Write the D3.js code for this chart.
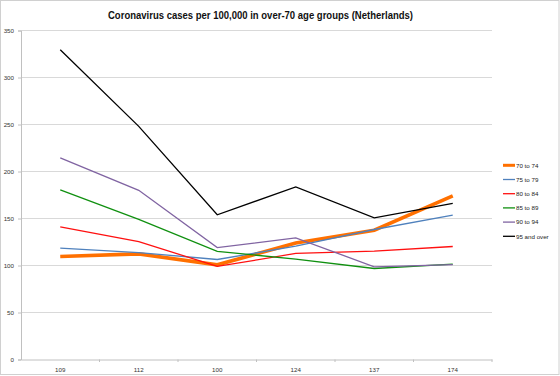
<!DOCTYPE html>
<html><head><meta charset="utf-8">
<script src="https://cdn.jsdelivr.net/npm/d3@7"></script>
<style>body{margin:0;background:#fff}svg{display:block}</style>
</head><body>
<script>
const categories = ["109","112","100","124","137","174"];
const seriesNames = ["70 to 74","75 to 79","80 to 84","85 to 89","90 to 94","95 and over"];
const s70 = [109.6,112.4,100.7,124,137.5,174];
const s75 = [118.4,113.8,106.4,120.5,138.3,153.5];
const s80 = [141,125.5,99,112.8,115.2,120.2];
const s85 = [180.4,149,115,106.8,96.8,101.4];
const s90 = [214.4,180,119,129.4,98.6,101];
const s95 = [329.5,248,154,183.6,150.6,166];
const yTicks = [0,50,100,150,200,250,300,350];
const colors = ["#ff7000","#4f81bd","#ff1010","#109010","#8064a2","#000000"];
const widths = [3.6,1.3,1.3,1.3,1.3,1.3];
const allSeries = [s70,s75,s80,s85,s90,s95];

const W=560,H=376;
const svg=d3.select("body").append("svg").attr("width",W).attr("height",H);
const font="Liberation Sans, Arial, sans-serif";
svg.append("rect").attr("x",0.5).attr("y",0.5).attr("width",W-1.5).attr("height",H-2).attr("fill","#fff").attr("stroke","#d0d0d0");

const x=d3.scaleBand().domain(categories).range([21,492]);
const y=d3.scaleLinear().domain([0,350]).range([359.5,30.5]);

// gridlines
svg.append("g").selectAll("line").data(yTicks.filter(d=>d>0)).join("line")
  .attr("x1",21).attr("x2",492).attr("y1",d=>y(d)).attr("y2",d=>y(d))
  .attr("stroke","#d9d9d9").attr("stroke-width",1.2);

// y axis
const ya=svg.append("g").attr("transform","translate(21,0)")
  .call(d3.axisLeft(y).tickValues(yTicks).tickSize(3).tickPadding(4));
ya.select(".domain").attr("stroke","#c0c0c0");
ya.selectAll(".tick line").attr("stroke","#c0c0c0");
ya.selectAll("text").attr("font-family",font).attr("font-size",6.2).attr("fill","#333");

// x axis
const xa=svg.append("g").attr("transform","translate(0,359.5)")
  .call(d3.axisBottom(x).tickSize(0).tickPadding(8));
xa.select(".domain").attr("stroke","#c0c0c0");
xa.selectAll("text").attr("font-family",font).attr("font-size",6.2).attr("fill","#333");
svg.append("g").selectAll("line").data(categories.slice(1).concat(["end"])).join("line")
  .attr("x1",(d,i)=>i<categories.length-1?x(d):x.range()[1])
  .attr("x2",(d,i)=>i<categories.length-1?x(d):x.range()[1])
  .attr("y1",359.5).attr("y2",362).attr("stroke","#c0c0c0");

// lines
const line=d3.line().x((d,i)=>x(categories[i])+x.bandwidth()/2).y(d=>y(d));
allSeries.forEach((s,k)=>{
  svg.append("path").datum(s).attr("d",line).attr("fill","none")
    .attr("stroke",colors[k]).attr("stroke-width",widths[k]).attr("stroke-linejoin","miter");
});

// title
svg.append("text").attr("x",260.5).attr("y",19).attr("text-anchor","middle")
  .attr("font-family",font).attr("font-weight","bold").attr("font-size",10.5)
  .attr("textLength",305).attr("lengthAdjust","spacingAndGlyphs").attr("fill","#111")
  .text("Coronavirus cases per 100,000 in over-70 age groups (Netherlands)");

// legend
const lg=svg.append("g");
seriesNames.forEach((n,k)=>{
  const yy=165.3+k*14.2;
  lg.append("line").attr("x1",503).attr("x2",515).attr("y1",yy).attr("y2",yy)
    .attr("stroke",colors[k]).attr("stroke-width",k===0?3:1.3);
  lg.append("text").attr("x",516).attr("y",yy+2.2).attr("font-family",font)
    .attr("font-size",6.2).attr("fill","#222").text(n);
});
</script>
</body></html>
